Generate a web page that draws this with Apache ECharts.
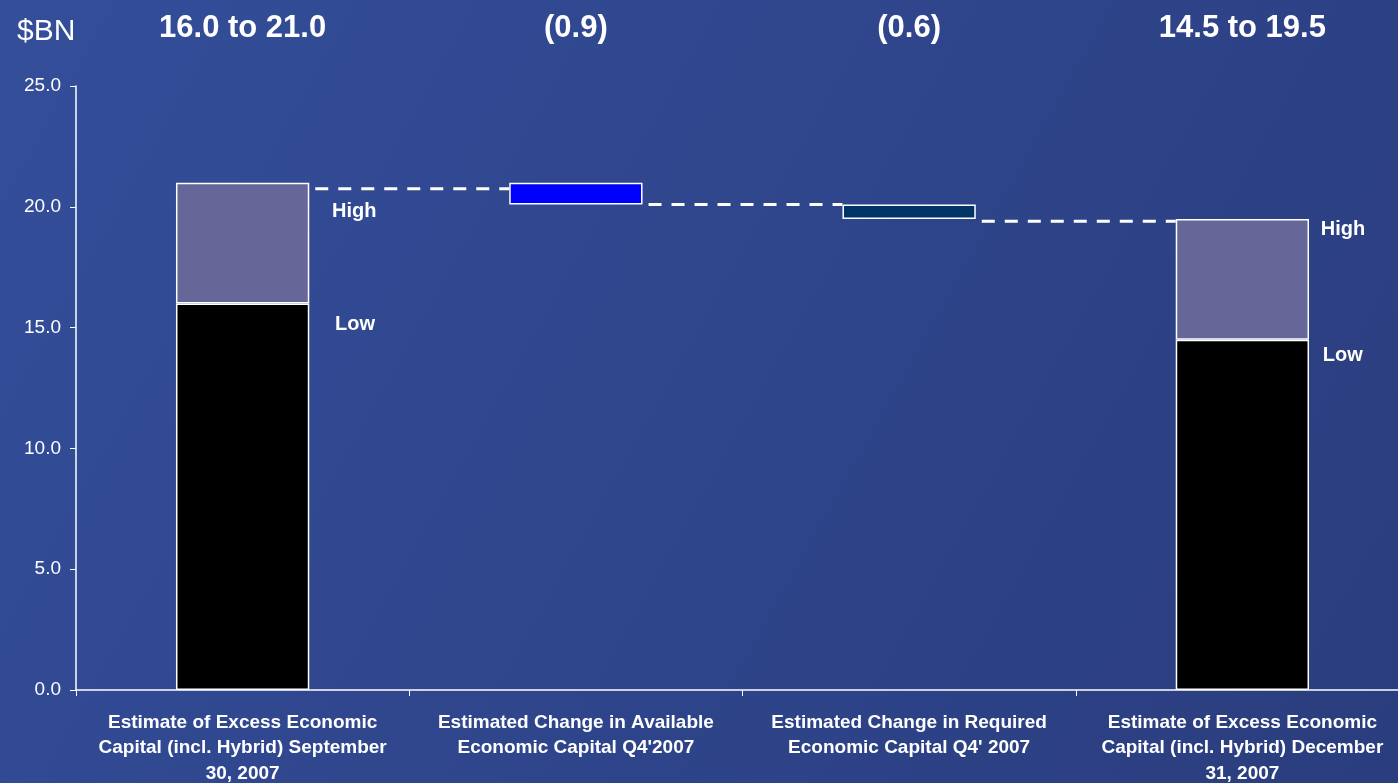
<!DOCTYPE html>
<html>
<head>
<meta charset="utf-8">
<script src="https://cdn.jsdelivr.net/npm/echarts@6/dist/echarts.min.js"></script>
<style>
  html, body { margin: 0; padding: 0; }
  #chart { width: 1398px; height: 783px; }
</style>
</head>
<body>
<div id="chart"></div>
<script>
const categories = [
  "Estimate of Excess Economic\nCapital (incl. Hybrid) September\n30, 2007",
  "Estimated Change in Available\nEconomic Capital Q4'2007",
  "Estimated Change in Required\nEconomic Capital Q4' 2007",
  "Estimate of Excess Economic\nCapital (incl. Hybrid) December\n31, 2007",
];
const topLabels = ["16.0 to 21.0", "(0.9)", "(0.6)", "14.5 to 19.5"];
const baseVals = [0, 20.1, 19.5, 0];
const lowVals = [16.0, "-", "-", 14.5];
const highVals = [5.0, "-", "-", 5.0];
const changeVals = ["-", 0.9, 0.6, "-"];
// connector level, drawn from category i to i+1
const connectorVals = [[0, 20.75], [1, 20.1], [2, 19.4]];
const yTicks = { min: 0, max: 25, interval: 5 };

const chart = echarts.init(document.getElementById("chart"));

const white = "#ffffff";
const font = "Liberation Sans, Arial, sans-serif";
const shadow = {
  textShadowColor: "rgba(0,0,0,0.85)",
  textShadowBlur: 0,
  textShadowOffsetX: 2,
  textShadowOffsetY: 2,
};
const tagStyle = Object.assign(
  { show: true, color: white, fontSize: 20, fontWeight: "bold", fontFamily: font },
  shadow
);
// label placement next to each bar, [x, y] from bar top-left
const highPos = [[156, 19], null, null, [145, 1]];
const lowPos = [[159, 11], null, null, [147, 6]];

const option = {
  backgroundColor: {
    type: "linear",
    x: 0, y: 0, x2: 1, y2: 1,
    colorStops: [
      { offset: 0, color: "#344e9a" },
      { offset: 1, color: "#2a3d7e" },
    ],
  },
  animation: false,
  title: {
    text: "$BN",
    left: 12,
    top: 12,
    textStyle: { color: white, fontSize: 30, fontWeight: "normal", fontFamily: font },
  },
  grid: { left: 76, width: 1333, top: 86, bottom: 93, outerBoundsMode: "none", containLabel: false },
  xAxis: [
    {
      type: "category",
      data: categories,
      axisLine: { lineStyle: { color: white, width: 1.5 } },
      axisTick: { show: true, length: 6, lineStyle: { color: white } },
      axisLabel: {
        interval: 0,
        color: white,
        fontSize: 19,
        fontWeight: "bold",
        lineHeight: 25.5,
        margin: 20,
        fontFamily: font,
      },
    },
    {
      type: "category",
      position: "top",
      data: topLabels,
      axisLine: { show: false },
      axisTick: { show: false },
      axisLabel: Object.assign(
        { interval: 0, color: white, fontSize: 31, fontWeight: "bold", margin: 42, fontFamily: font },
        shadow
      ),
    },
  ],
  yAxis: {
    type: "value",
    min: yTicks.min,
    max: yTicks.max,
    interval: yTicks.interval,
    axisLine: { show: true, lineStyle: { color: white, width: 1.5 } },
    axisTick: { show: true, length: 6, lineStyle: { color: white } },
    splitLine: { show: false },
    axisLabel: {
      color: white,
      fontSize: 19,
      margin: 15,
      formatter: (v) => v.toFixed(1),
      fontFamily: font,
    },
  },
  series: [
    {
      type: "bar",
      stack: "w",
      barWidth: "40%",
      data: baseVals,
      itemStyle: { color: "transparent" },
      silent: true,
    },
    {
      type: "bar",
      stack: "w",
      data: lowVals.map((v, i) => ({
        value: v,
        label: lowPos[i] ? Object.assign({ position: lowPos[i], formatter: "Low" }, tagStyle) : { show: false },
      })),
      itemStyle: { color: "#000000", borderColor: white, borderWidth: 1.5 },
    },
    {
      type: "bar",
      stack: "w",
      data: highVals.map((v, i) => ({
        value: v,
        label: highPos[i] ? Object.assign({ position: highPos[i], formatter: "High" }, tagStyle) : { show: false },
      })),
      itemStyle: { color: "#666699", borderColor: white, borderWidth: 1.5 },
    },
    {
      type: "bar",
      stack: "w",
      data: changeVals.map((v, i) => ({
        value: v,
        itemStyle: { color: i === 1 ? "#0000ff" : "#003366" },
      })),
      itemStyle: { borderColor: white, borderWidth: 1.5 },
    },
    {
      type: "custom",
      encode: { x: 0, y: 1 },
      data: connectorVals,
      z: 5,
      renderItem: (params, api) => {
        const i = api.value(0);
        const v = api.value(1);
        const p1 = api.coord([i, v]);
        const p2 = api.coord([i + 1, v]);
        const half = api.size([1, 0])[0] * 0.2;
        return {
          type: "line",
          shape: { x1: p1[0] + half + 6, y1: p1[1], x2: p2[0] - half, y2: p2[1] },
          style: { stroke: white, lineWidth: 3, lineDash: [13, 10] },
        };
      },
    },
  ],
};
chart.setOption(option);
</script>
</body>
</html>
